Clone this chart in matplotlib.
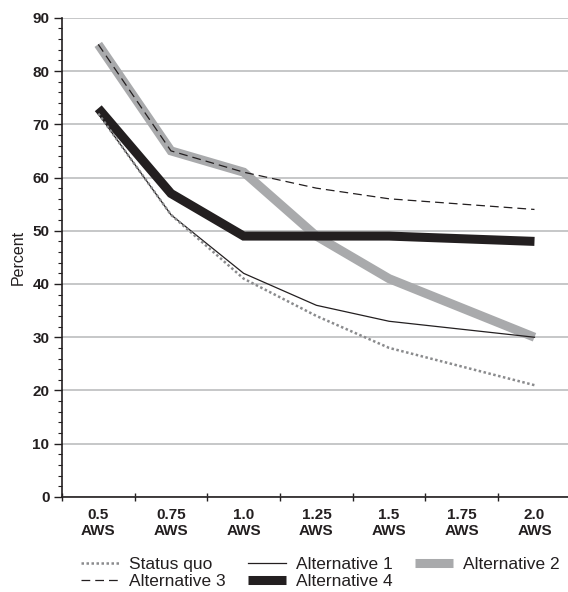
import matplotlib
matplotlib.use("Agg")
import matplotlib.pyplot as plt
from matplotlib.ticker import MultipleLocator

categories = ["0.5\nAWS", "0.75\nAWS", "1.0\nAWS", "1.25\nAWS", "1.5\nAWS", "1.75\nAWS", "2.0\nAWS"]
status_quo = [72, 53, 41, 34, 28, 24.5, 21]
alternative_1 = [72, 53, 42, 36, 33, 31.5, 30]
alternative_2 = [85, 65, 61, 49, 41, 35.5, 30]
alternative_3 = [85, 65, 61, 58, 56, 55, 54]
alternative_4 = [73, 57, 49, 49, 49, 48.5, 48]

plt.rcParams['font.family'] = ['Liberation Sans', 'DejaVu Sans']

fig = plt.figure(figsize=(5.68, 5.92), dpi=100)
ax = fig.add_axes([0.109, 0.1605, 0.896, 0.8095])

x = list(range(len(categories)))
l2, = ax.plot(x, alternative_2, color="#a9aaac", lw=6.5, solid_joinstyle='miter', solid_capstyle='butt', label="Alternative 2", zorder=3)
l4, = ax.plot(x, alternative_4, color="#231f20", lw=6.5, solid_joinstyle='miter', solid_capstyle='butt', label="Alternative 4", zorder=3)
l3, = ax.plot(x, alternative_3, color="#231f20", lw=0.9, ls=(0, (7, 4)), label="Alternative 3", zorder=4)
l1, = ax.plot(x, alternative_1, color="#231f20", lw=0.9, label="Alternative 1", zorder=4)
ls, = ax.plot(x, status_quo, color="#8a8b8d", lw=1.8, ls=(0, (1, 1)), label="Status quo", zorder=4)

ax.set_xlim(-0.5, len(categories) - 0.5)
ax.set_ylim(0, 90)
ax.yaxis.set_major_locator(MultipleLocator(10))
ax.yaxis.set_minor_locator(MultipleLocator(2))
ax.set_xticks([i - 0.5 for i in range(len(categories) + 1)])
ax.set_xticklabels([])
ax.set_xticks(x, minor=True)
ax.set_xticklabels(categories, minor=True, fontsize=11, fontweight='bold', color="#231f20", linespacing=1.2)
ax.tick_params(axis='x', which='minor', length=0, pad=8)
ax.tick_params(axis='x', which='major', length=6, width=1, direction='inout', color="#231f20")
ax.tick_params(axis='y', which='major', length=6, width=1, direction='out', labelsize=11, color="#231f20", labelcolor="#231f20", pad=3)
ax.tick_params(axis='y', which='minor', length=3, width=0.8, direction='out', color="#231f20")
for lab in ax.get_yticklabels():
    lab.set_fontweight('bold')

ax.grid(axis='y', which='major', color="#bcbdbf", lw=1.2, zorder=0)
ax.set_axisbelow(True)
for s in ['top', 'right']:
    ax.spines[s].set_visible(False)
for s in ['left', 'bottom']:
    ax.spines[s].set_color("#231f20")
    ax.spines[s].set_linewidth(1.2)

ax.set_ylabel("Percent", fontsize=11.5, color="#231f20", labelpad=5)

leg = fig.legend(handles=[ls, l3, l1, l4, l2], ncol=3, frameon=False, loc='upper left',
                 bbox_to_anchor=(0.127, 0.074), fontsize=12.5, handlelength=2.2, handletextpad=0.6,
                 columnspacing=1.25, labelspacing=0.12, borderpad=0)
for t in leg.get_texts():
    t.set_color("#231f20")

fig.savefig("out.png", dpi=100)
